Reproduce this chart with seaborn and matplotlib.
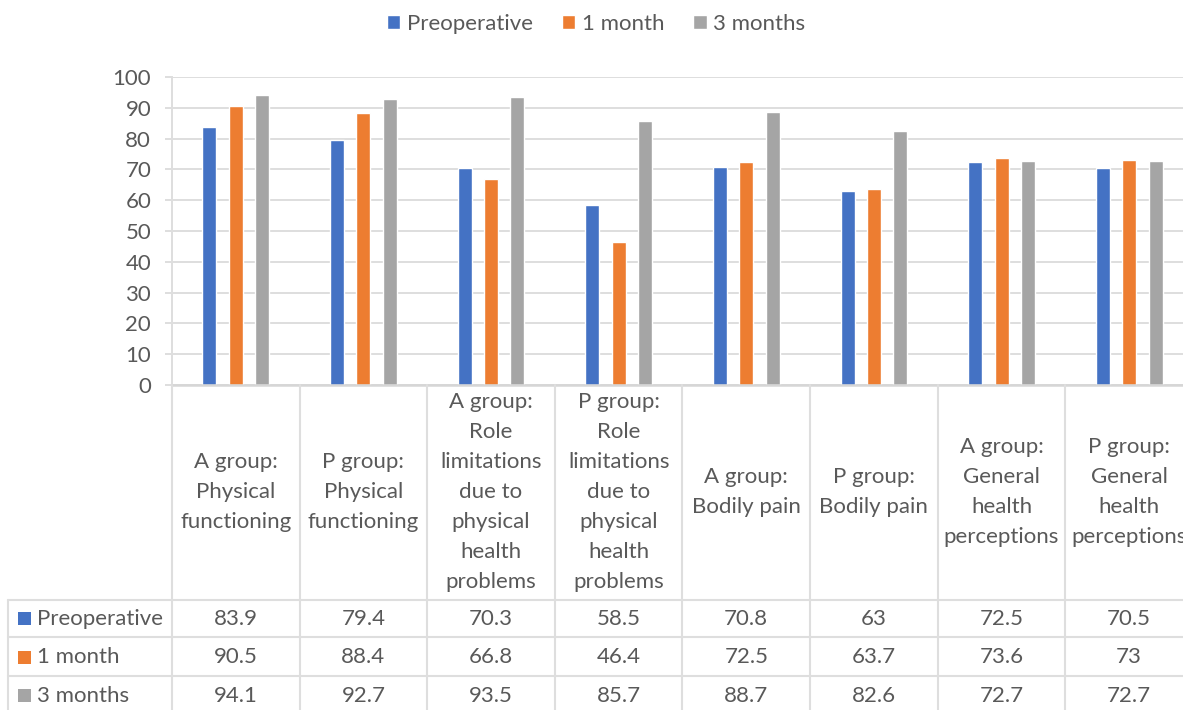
import matplotlib
matplotlib.use("Agg")
import matplotlib.pyplot as plt
from matplotlib.patches import Rectangle
import seaborn as sns
import pandas as pd

categories = [
    "A group:\nPhysical\nfunctioning",
    "P group:\nPhysical\nfunctioning",
    "A group:\nRole\nlimitations\ndue to\nphysical\nhealth\nproblems",
    "P group:\nRole\nlimitations\ndue to\nphysical\nhealth\nproblems",
    "A group:\nBodily pain",
    "P group:\nBodily pain",
    "A group:\nGeneral\nhealth\nperceptions",
    "P group:\nGeneral\nhealth\nperceptions",
]
series_names = ["Preoperative", "1 month", "3 months"]
preoperative = [83.9, 79.4, 70.3, 58.5, 70.8, 63, 72.5, 70.5]
one_month = [90.5, 88.4, 66.8, 46.4, 72.5, 63.7, 73.6, 73]
three_months = [94.1, 92.7, 93.5, 85.7, 88.7, 82.6, 72.7, 72.7]
y_ticks = [0, 10, 20, 30, 40, 50, 60, 70, 80, 90, 100]
colors = ["#4472C4", "#ED7D31", "#A5A5A5"]

values = [preoperative, one_month, three_months]
rows = []
for name, vals in zip(series_names, values):
    for cat, v in zip(categories, vals):
        rows.append({"category": cat, "period": name, "value": v})
df = pd.DataFrame(rows)

sns.set_style("white")
plt.rcParams["font.family"] = ["Lato", "DejaVu Sans"]
TXT = "#595959"
GRID = "#DEDEDE"
FS = 16

W, H = 1183, 710
fig = plt.figure(figsize=(W / 100, H / 100), dpi=100)

# main plot area: x 172..1193 px, y 77..385 px (top-origin)
ax = fig.add_axes([172 / W, (H - 385) / H, (1193 - 172) / W, (385 - 77) / H])
sns.barplot(data=df, x="category", y="value", hue="period", order=categories,
            hue_order=series_names, palette=colors, width=0.62, gap=0.47,
            saturation=1, ax=ax, legend=True, errorbar=None)
handles, labels = ax.get_legend_handles_labels()
ax.legend_.remove()

ax.set_xlim(-0.5, len(categories) - 0.5)
ax.set_ylim(0, 100)
ax.set_yticks(y_ticks)
ax.set_xticks([])
ax.set_xlabel("")
ax.set_ylabel("")
ax.yaxis.grid(True, color=GRID, linewidth=1.4)
ax.set_axisbelow(True)
ax.tick_params(axis="y", colors=GRID, length=5, width=1.4, direction="out",
               left=True, pad=10, labelsize=FS, labelcolor=TXT)
for s in ["top", "right"]:
    ax.spines[s].set_visible(False)
ax.spines["left"].set_color(GRID)
ax.spines["left"].set_linewidth(1.4)
ax.spines["bottom"].set_color("#D6D6D6")
ax.spines["bottom"].set_linewidth(1.8)
ax.set_facecolor("white")

# data table area below plot, sharing x categories
unit = (1193 - 172) / len(categories)
x_left = -0.5 - (172 - 8) / unit
tax = fig.add_axes([8 / W, 0, (1193 - 8) / W, (H - 385) / H])
tax.set_xlim(x_left, len(categories) - 0.5)
tax.set_ylim(H, 385)
tax.axis("off")

lw = 1.5
# vertical column lines
for i in range(len(categories)):
    tax.plot([i - 0.5, i - 0.5], [385, H], color=GRID, lw=lw, clip_on=False)
tax.plot([x_left, x_left], [600, H], color=GRID, lw=lw, clip_on=False)
# horizontal row lines
row_tops = [600, 637, 676]
for yv in row_tops:
    tax.plot([x_left, len(categories) - 0.5], [yv, yv], color=GRID, lw=lw, clip_on=False)

# header texts
for i, cat in enumerate(categories):
    tax.text(i, 492, cat, ha="center", va="center", fontsize=FS, color=TXT,
             linespacing=1.62, multialignment="center")

# data rows
row_centers = [618.5, 657, 695.5]
px = 1 / unit
for r, (name, vals, col) in enumerate(zip(series_names, values, colors)):
    yc = row_centers[r]
    tax.add_patch(Rectangle((x_left + 10 * px, yc - 6.5), 13 * px, 13,
                            facecolor=col, edgecolor="none", clip_on=False))
    tax.text(x_left + 29 * px, yc, name, ha="left", va="center", fontsize=FS, color=TXT)
    for i, v in enumerate(vals):
        tax.text(i, yc, f"{v:g}", ha="center", va="center", fontsize=FS, color=TXT)

fig.legend(handles, labels, loc="center", bbox_to_anchor=(0.504, 1 - 24 / H),
           ncol=3, frameon=False, fontsize=FS, labelcolor=TXT,
           handlelength=0.6, handleheight=0.6, handletextpad=0.3,
           columnspacing=1.3)

fig.savefig("out.png", dpi=100, facecolor="white")
